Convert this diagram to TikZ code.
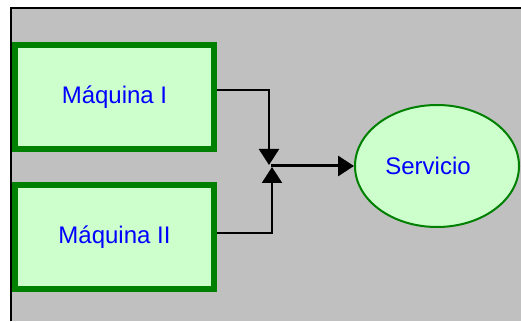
\documentclass[tikz,border=0pt]{standalone}
\usepackage{fontspec}
\setmainfont{Liberation Sans}
\usepackage{xcolor}
\usepackage{tikz}
\usetikzlibrary{calc, shapes.geometric, positioning, arrows.meta}
\definecolor{colaGris}{HTML}{C0C0C0}
\definecolor{colaVerde}{HTML}{008000}
\definecolor{colaClaro}{HTML}{CCFFCC}
\definecolor{colaAzul}{HTML}{0000FF}
\tikzset{
    maquina/.style={rectangle, draw=colaVerde, fill=colaClaro, line width=6pt,
        minimum width=199pt, minimum height=104pt, inner sep=0pt,
        font=\fontsize{24}{28}\selectfont, text=colaAzul},
    servicio/.style={ellipse, draw=colaVerde, fill=colaClaro, line width=2pt,
        minimum width=164pt, minimum height=122pt, inner sep=0pt,
        font=\fontsize{24}{28}\selectfont, text=colaAzul},
    flujo/.style={line width=2.2pt, -{Triangle[length=16pt, width=20pt]}},
}
\begin{document}
\begin{tikzpicture}[x=1pt, y=1pt]
        % fondo y marco
        \useasboundingbox (0,0) rectangle (521,321);
        \fill[colaGris] (11,0) rectangle (521,313);
        \draw[line width=2pt] (11,0) -- (11,313) -- (521,313);

        \node[maquina] (maq1) at (114.5,224) {Máquina I};
        \node[maquina] (maq2) at (114.5,84) {Máquina II};
        \node[servicio] (serv) at (437,155) {\hspace*{-18pt}Servicio};

        \coordinate (union) at (271,155);
        \coordinate (llega1) at (269,156);
        \coordinate (llega2) at (272,154);

        \draw[flujo] ([yshift=7pt]maq1.east) -| (llega1);
        \draw[flujo] ([yshift=4pt]maq2.east) -| (llega2);
        \draw[flujo, line width=3pt] (union) -- (serv.west);
    \end{tikzpicture}
\end{document}
